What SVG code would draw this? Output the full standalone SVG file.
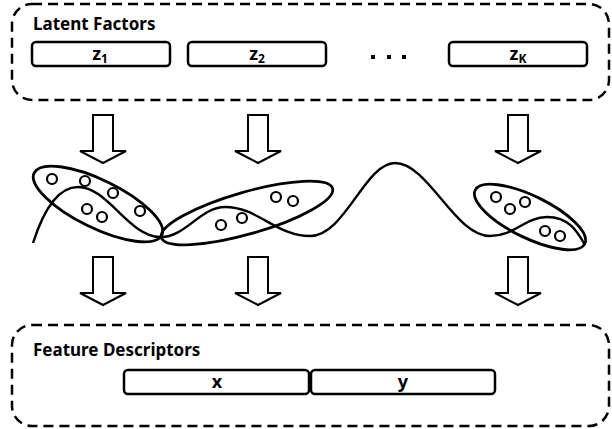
<svg xmlns="http://www.w3.org/2000/svg" xmlns:xlink="http://www.w3.org/1999/xlink" width="612" height="429" viewBox="0 0 612 429">
<style>
.dash{fill:none;stroke:#000;stroke-width:2.5;stroke-dasharray:10 6}
.box{fill:#fff;stroke:#000;stroke-width:2.5}
.title{font-family:"Noto Sans","Liberation Sans",sans-serif;font-weight:bold;font-size:17px;fill:#000}
.lbl{font-family:"Noto Sans","Liberation Sans",sans-serif;font-weight:bold;font-size:18px;fill:#000;text-anchor:middle}
.sub{font-size:12px}
.ell{fill:none;stroke:#000;stroke-width:2.8}
.pt{fill:#fff;stroke:#000;stroke-width:2.2}
.curve{fill:none;stroke:#000;stroke-width:2.4}
.arr{fill:#fff;stroke:#000;stroke-width:2}
</style>
<defs>
<path id="arrow" class="arr" d="M-10,0 H10 V36 H23 L0,48 L-23,36 H-10 Z"/>
</defs>
<rect width="612" height="429" fill="#fff"/>

<g id="latent-factors">
<rect class="dash" x="12" y="4" width="597" height="96" rx="20"/>
<text class="title" x="33" y="30">Latent Factors</text>
</g>
<g id="z1"><rect class="box" x="32" y="42" width="138" height="24" rx="4"/><text class="lbl" x="100" y="60">z<tspan class="sub" dy="3">1</tspan></text></g>
<g id="z2"><rect class="box" x="188" y="42" width="138" height="24" rx="4"/><text class="lbl" x="257" y="60">z<tspan class="sub" dy="3">2</tspan></text></g>
<g id="dots"><rect x="371" y="55" width="4" height="4"/><rect x="387" y="55" width="4" height="4"/><rect x="402" y="55" width="4" height="4"/></g>
<g id="zK"><rect class="box" x="449" y="42" width="138" height="24" rx="4"/><text class="lbl" x="518" y="60">z<tspan class="sub" dy="3">K</tspan></text></g>

<g id="manifold">
<path class="curve" d="M33,243 C42,215 56,187 78,187 C108,187 128,236 160,237 C185,238 200,207 225,207 C258,207 276,236 310,236 C345,236 365,163 395,163 C428,163 455,236 490,236 C515,236 525,217 547,217 C570,217 578,233 585,245"/>
</g>
<g id="cluster1">
<ellipse class="ell" cx="98" cy="204" rx="71" ry="24" transform="rotate(26 98 204)"/>
<circle class="pt" cx="52" cy="179" r="5"/><circle class="pt" cx="85" cy="181" r="5"/><circle class="pt" cx="113" cy="193" r="5"/>
<circle class="pt" cx="87" cy="209" r="5"/><circle class="pt" cx="102" cy="217" r="5"/><circle class="pt" cx="140" cy="211" r="5"/>
</g>
<g id="cluster2">
<ellipse class="ell" cx="247" cy="213" rx="89" ry="21" transform="rotate(-16 247 213)"/>
<circle class="pt" cx="221" cy="225" r="5"/><circle class="pt" cx="242" cy="218" r="5"/><circle class="pt" cx="276" cy="197" r="5"/><circle class="pt" cx="293" cy="201" r="5"/>
</g>
<g id="cluster3">
<ellipse class="ell" cx="530" cy="217" rx="61" ry="21" transform="rotate(26 530 217)"/>
<circle class="pt" cx="496" cy="197" r="5"/><circle class="pt" cx="510" cy="209" r="5"/><circle class="pt" cx="525" cy="202" r="5"/>
<circle class="pt" cx="545" cy="231" r="5"/><circle class="pt" cx="560" cy="236" r="5"/>
</g>

<g id="feature-descriptors">
<rect class="dash" x="12" y="325" width="597" height="101" rx="20"/>
<text class="title" x="33" y="356">Feature Descriptors</text>
</g>
<g id="x"><rect class="box" x="124" y="370" width="185" height="24" rx="4"/><text class="lbl" x="217" y="388">x</text></g>
<g id="y"><rect class="box" x="311" y="370" width="184" height="24" rx="4"/><text class="lbl" x="403" y="388">y</text></g>

<g id="connectors">
<use xlink:href="#arrow" x="103" y="115"/>
<use xlink:href="#arrow" x="258" y="115"/>
<use xlink:href="#arrow" x="518" y="115"/>
<use xlink:href="#arrow" x="103" y="257"/>
<use xlink:href="#arrow" x="258" y="257"/>
<use xlink:href="#arrow" x="518" y="257"/>
</g>
</svg>
